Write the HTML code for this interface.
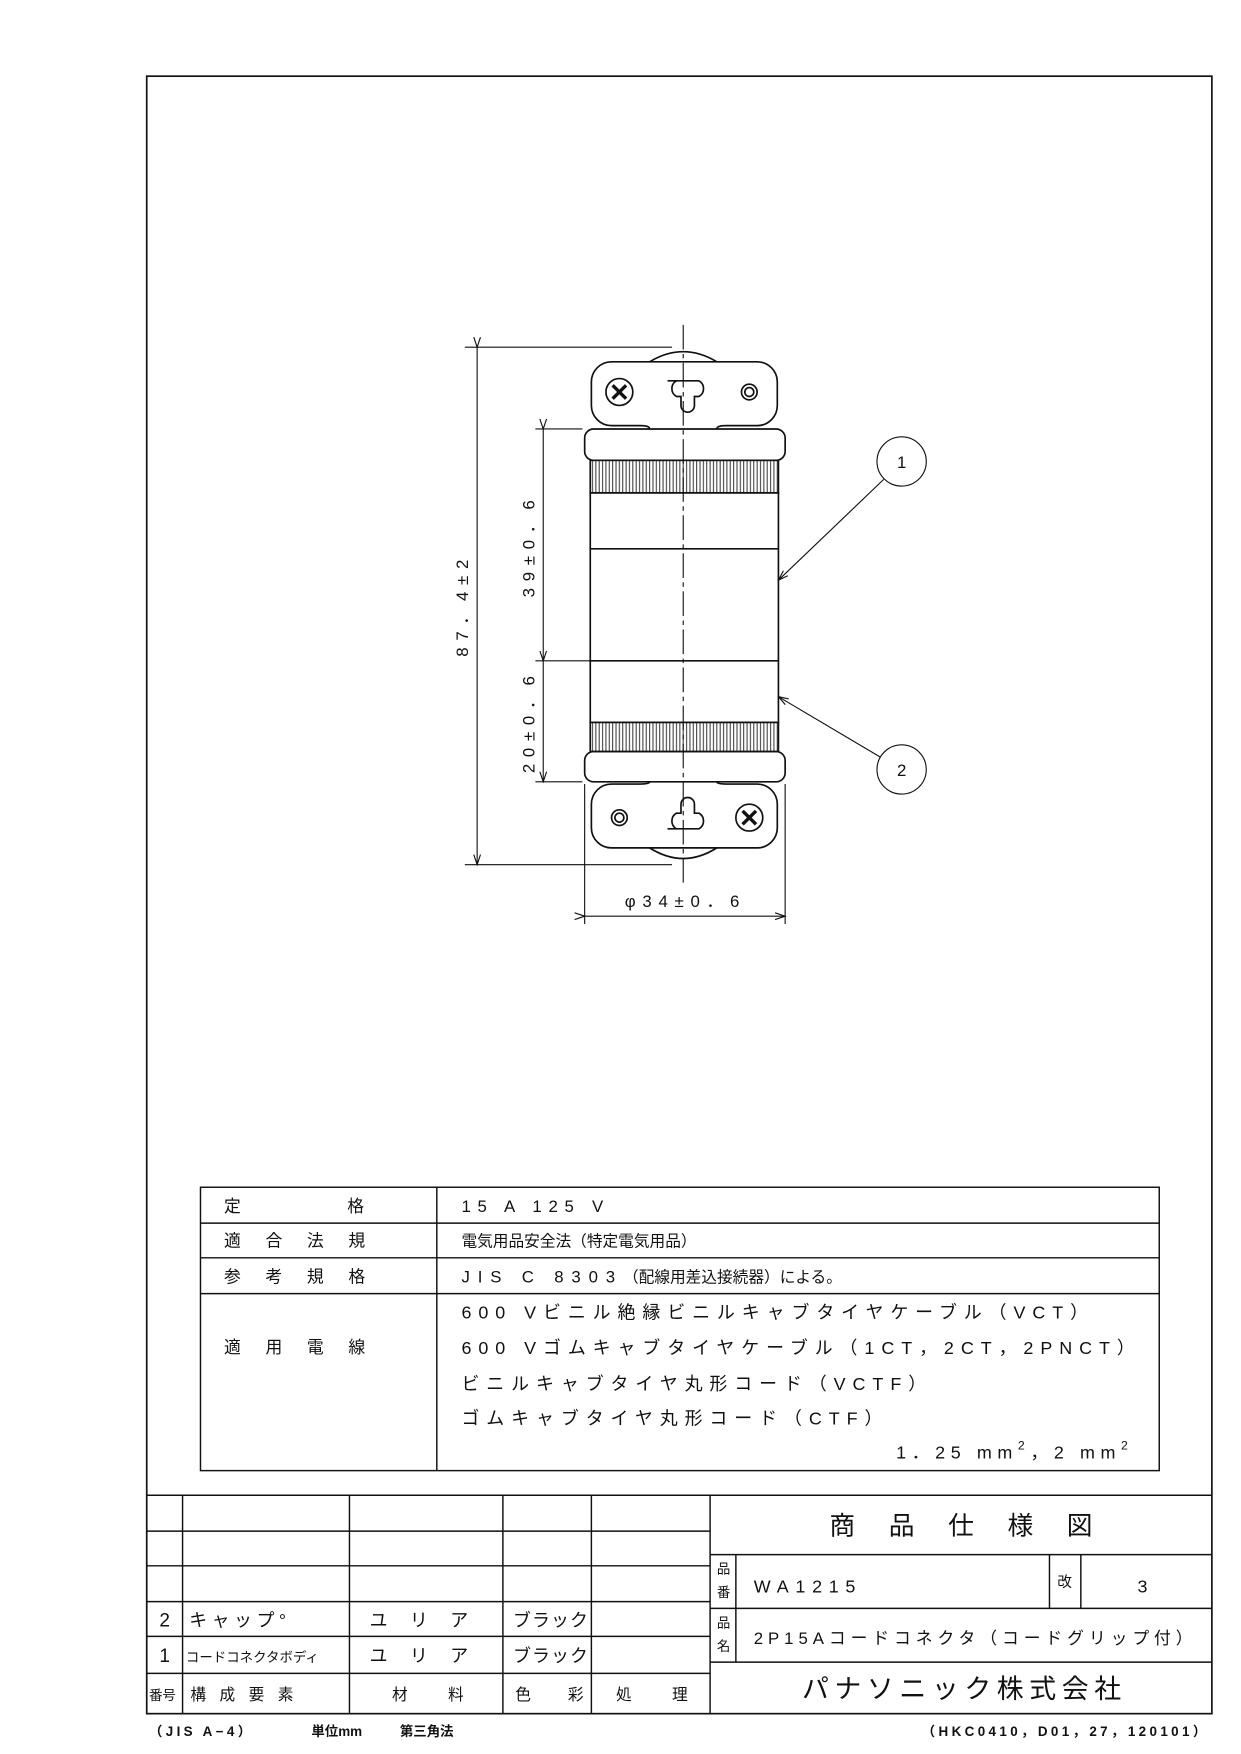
<!DOCTYPE html>
<html><head><meta charset="utf-8"><style>
html,body{margin:0;padding:0;background:#fff}
svg{display:block}
text{font-family:"Liberation Sans","Noto Sans CJK JP",sans-serif;fill:#111}
</style></head><body>
<svg width="1241" height="1754" viewBox="0 0 1108 1566" xmlns="http://www.w3.org/2000/svg">
<defs>
<pattern id="kn" width="3" height="10" patternUnits="userSpaceOnUse"><rect width="3" height="10" fill="#fff"/><line x1="1" y1="0" x2="1" y2="10" stroke="#333" stroke-width="0.9"/></pattern>
<marker id="ar" markerWidth="10" markerHeight="8" refX="9" refY="4" orient="auto" markerUnits="userSpaceOnUse"><path d="M0,1 L9,4 L0,7" fill="none" stroke="#111" stroke-width="1"/></marker>
</defs>
<g fill="none" stroke="#111" stroke-width="1.5">
<rect x="131" y="68" width="951" height="1462"/>
<!-- top tab -->
<path d="M580,323 Q610,305 640,323"/>
<path d="M580,383 Q580,380 572,380 H546 A18,18 0 0 1 528,362 V341 A18,18 0 0 1 546,323 H676 A18,18 0 0 1 694,341 V362 A18,18 0 0 1 676,380 H648 Q640,380 640,383"/>
<path d="M596,340 h28 a8,8 0 0 1 0,14 h-4 v8 a6,6 0 0 1 -12,0 v-8 h-4 a8,8 0 0 1 0,-14z"/>
<circle cx="553" cy="350" r="12"/><circle cx="669" cy="350" r="7"/><circle cx="669" cy="350" r="4"/>
<path d="M547,344 l12,12 M559,344 l-12,12" stroke-width="3"/>
<rect x="522" y="383" width="179" height="28" rx="8"/>
<rect x="527" y="411" width="168" height="29" fill="url(#kn)"/>
<rect x="527" y="440" width="168" height="205"/>
<line x1="527" y1="490" x2="695" y2="490"/><line x1="527" y1="590" x2="695" y2="590"/>
<rect x="527" y="645" width="168" height="26" fill="url(#kn)"/>
<rect x="522" y="671" width="179" height="27" rx="8"/>
<!-- bottom tab -->
<path d="M580,698 Q580,700 572,700 H546 A18,18 0 0 0 528,718 V739 A18,18 0 0 0 546,757 H676 A18,18 0 0 0 694,739 V718 A18,18 0 0 0 676,700 H648 Q640,700 640,698"/>
<path d="M580,757 Q610,776 640,757"/>
<path d="M596,740 h28 a8,8 0 0 0 0,-14 h-4 v-8 a6,6 0 0 0 -12,0 v8 h-4 a8,8 0 0 0 0,14z"/>
<circle cx="553" cy="730" r="7"/><circle cx="553" cy="730" r="4"/><circle cx="669" cy="730" r="12"/>
<path d="M663,724 l12,12 M675,724 l-12,12" stroke-width="3"/>
<line x1="610" y1="290" x2="610" y2="790" stroke-width="1" stroke-dasharray="22,4,4,4"/>
</g>
<g stroke="#111" stroke-width="1" fill="none">
<line x1="415" y1="310" x2="600" y2="310"/><line x1="415" y1="772" x2="600" y2="772"/>
<line x1="426" y1="310" x2="426" y2="772" marker-start="url(#ar)" marker-end="url(#ar)"/>
<line x1="478" y1="383" x2="520" y2="383"/><line x1="478" y1="590" x2="527" y2="590"/><line x1="478" y1="698" x2="520" y2="698"/>
<line x1="485" y1="383" x2="485" y2="590" marker-start="url(#ar)" marker-end="url(#ar)"/>
<line x1="485" y1="590" x2="485" y2="698" marker-end="url(#ar)"/>
<line x1="522" y1="700" x2="522" y2="825"/><line x1="701" y1="700" x2="701" y2="825"/>
<line x1="522" y1="818" x2="701" y2="818" marker-start="url(#ar)" marker-end="url(#ar)"/>
<circle cx="805" cy="412" r="22"/><circle cx="805" cy="687" r="22"/>
<line x1="789" y1="428" x2="695" y2="518" marker-end="url(#ar)"/>
<line x1="786" y1="676" x2="695" y2="622" marker-end="url(#ar)"/>
</g>
<g font-size="15" letter-spacing="6">
<text transform="translate(418,540) rotate(-90)" text-anchor="middle">87．4±2</text>
<text transform="translate(477,487) rotate(-90)" text-anchor="middle">39±0．6</text>
<text transform="translate(477,644) rotate(-90)" text-anchor="middle">20±0．6</text>
<text x="612" y="810" text-anchor="middle">φ34±0．6</text>
</g>
<text x="805" y="418" font-size="15" text-anchor="middle">1</text>
<text x="805" y="693" font-size="15" text-anchor="middle">2</text>
<!-- spec table -->
<g stroke="#111" stroke-width="1.3" fill="none">
<rect x="179" y="1060" width="856" height="253"/>
<line x1="390" y1="1060" x2="390" y2="1313"/>
<line x1="179" y1="1092" x2="1035" y2="1092"/><line x1="179" y1="1123" x2="1035" y2="1123"/><line x1="179" y1="1155" x2="1035" y2="1155"/>
</g>
<g font-size="15">
<text x="200" y="1082">定</text><text x="310" y="1082">格</text>
<text x="200" y="1113" letter-spacing="22">適合法規</text>
<text x="200" y="1145" letter-spacing="22">参考規格</text>
<text x="200" y="1208" letter-spacing="22">適用電線</text>
<text x="412" y="1082" letter-spacing="6">15 A 125 V</text>
<text x="412" y="1113" font-size="14">電気用品安全法（特定電気用品）</text>
<text x="412" y="1145" letter-spacing="7">JIS C 8303<tspan font-size="14" letter-spacing="0">（配線用差込接続器）による。</tspan></text>
<text x="412" y="1177" font-size="16" letter-spacing="6.2">600 Vビニル絶縁ビニルキャブタイヤケーブル（VCT）</text>
<text x="412" y="1209" font-size="16" letter-spacing="6.2">600 Vゴムキャブタイヤケーブル（1CT，2CT，2PNCT）</text>
<text x="412" y="1241" font-size="16" letter-spacing="6.2">ビニルキャブタイヤ丸形コード（VCTF）</text>
<text x="412" y="1272" font-size="16" letter-spacing="6.2">ゴムキャブタイヤ丸形コード（CTF）</text>
<text x="1012" y="1302" font-size="16" letter-spacing="5" text-anchor="end">1．25 mm<tspan dy="-8" font-size="11">2</tspan><tspan dy="8">，2 mm</tspan><tspan dy="-8" font-size="11">2</tspan></text>
</g>
<!-- title block -->
<g stroke="#111" stroke-width="1.3" fill="none">
<line x1="131" y1="1335" x2="1082" y2="1335"/>
<line x1="163" y1="1335" x2="163" y2="1530"/><line x1="312" y1="1335" x2="312" y2="1530"/>
<line x1="449" y1="1335" x2="449" y2="1530"/><line x1="528" y1="1335" x2="528" y2="1530"/>
<line x1="634" y1="1335" x2="634" y2="1530"/>
<line x1="131" y1="1367" x2="634" y2="1367"/><line x1="131" y1="1398" x2="634" y2="1398"/>
<line x1="131" y1="1430" x2="634" y2="1430"/><line x1="131" y1="1461" x2="634" y2="1461"/>
<line x1="131" y1="1494" x2="634" y2="1494"/>
<line x1="634" y1="1388" x2="1082" y2="1388"/><line x1="634" y1="1436" x2="1082" y2="1436"/><line x1="634" y1="1484" x2="1082" y2="1484"/>
<line x1="657" y1="1388" x2="657" y2="1484"/><line x1="937" y1="1388" x2="937" y2="1436"/><line x1="965" y1="1388" x2="965" y2="1436"/>
</g>
<g font-size="16">
<text x="147" y="1452" text-anchor="middle" font-size="17">2</text>
<text x="147" y="1484" text-anchor="middle" font-size="17">1</text>
<text x="169" y="1452" letter-spacing="4">キャップ°</text>
<text x="166" y="1484" font-size="12">コードコネクタボディ</text>
<text x="330" y="1452" letter-spacing="20">ユリア</text>
<text x="330" y="1484" letter-spacing="20">ユリア</text>
<text x="458" y="1452" letter-spacing="1">ブラック</text>
<text x="458" y="1484" letter-spacing="1">ブラック</text>
<text x="133" y="1518" font-size="12">番号</text>
<text x="170" y="1518" font-size="14" letter-spacing="12">構成要素</text>
<text x="350" y="1518" font-size="14">材</text><text x="400" y="1518" font-size="14">料</text>
<text x="460" y="1518" font-size="14">色</text><text x="507" y="1518" font-size="14">彩</text>
<text x="550" y="1518" font-size="14">処</text><text x="600" y="1518" font-size="14">理</text>
<text x="873" y="1370" font-size="23" text-anchor="middle" letter-spacing="30">商品仕様図</text>
<text x="640" y="1405" font-size="12">品</text><text x="640" y="1426" font-size="12">番</text>
<text x="640" y="1453" font-size="12">品</text><text x="640" y="1474" font-size="12">名</text>
<text x="673" y="1422" letter-spacing="6">WA1215</text>
<text x="944" y="1417" font-size="13">改</text>
<text x="1020" y="1422" text-anchor="middle">3</text>
<text x="673" y="1468" font-size="15" letter-spacing="4.4">2P15Aコードコネクタ（コードグリップ付）</text>
<text x="861" y="1516" font-size="24" text-anchor="middle" letter-spacing="5">パナソニック株式会社</text>
</g>
<g font-size="12" font-weight="bold">
<text x="133" y="1550" letter-spacing="3">（JIS A−4）</text>
<text x="278" y="1550">単位mm</text>
<text x="357" y="1550">第三角法</text>
<text x="1080" y="1550" text-anchor="end" letter-spacing="3">（HKC0410，D01，27，120101）</text>
</g>
</svg>
</body></html>
